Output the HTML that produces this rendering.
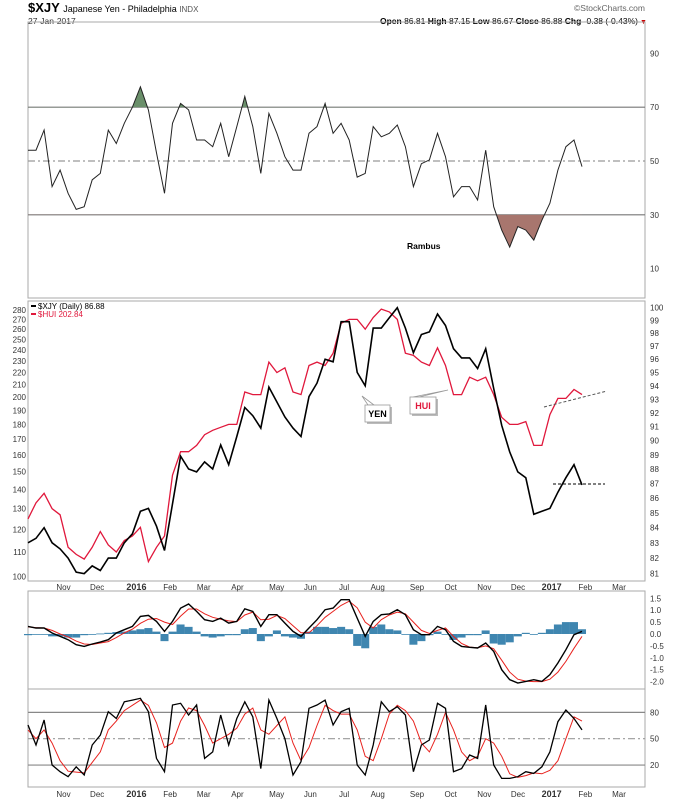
<!DOCTYPE html>
<html><head><meta charset="utf-8"><style>
body{margin:0;background:#fff;}
svg{display:block;font-family:"Liberation Sans",sans-serif;}
</style></head><body>
<svg id="chart" width="674" height="800" viewBox="0 0 674 800">
<g>
<text x="28" y="12" font-size="13" font-weight="bold">$XJY <tspan font-size="9" font-weight="normal">Japanese Yen - Philadelphia </tspan><tspan font-size="8" font-weight="normal" fill="#555">INDX</tspan></text>
<text x="28" y="24" font-size="8.5" fill="#333">27-Jan-2017</text>
<text x="645" y="11" font-size="8.5" fill="#666" text-anchor="end">©StockCharts.com</text>
<text x="638" y="24" font-size="8.5" text-anchor="end"><tspan font-weight="bold">Open</tspan> 86.81 <tspan font-weight="bold">High</tspan> 87.15 <tspan font-weight="bold">Low</tspan> 86.67 <tspan font-weight="bold">Close</tspan> 86.88 <tspan font-weight="bold">Chg</tspan> -0.38 (-0.43%)</text>
<text x="640" y="24" font-size="7" fill="#c00">▼</text>
</g>
<g id="panels"></g>
<text x="407" y="249" font-size="8.5" font-weight="bold">Rambus</text>
</svg>
<script>
const months = ["Nov","Dec","2016","Feb","Mar","Apr","May","Jun","Jul","Aug","Sep","Oct","Nov","Dec","2017","Feb","Mar"];
const monthPos = [0.16,0.22,0.29,0.35,0.41,0.47,0.54,0.6,0.66,0.72,0.79,0.85,0.91,0.97,1.03,1.09,1.15]; // fractional year offsets
const xjy = [83.0,83.3,84.0,83.0,82.6,82.0,81.1,81.0,81.5,81.2,82.0,82.0,83.0,83.6,85.1,85.3,84.1,82.5,85.6,88.9,88.0,87.8,88.5,88.0,89.7,88.3,90.3,92.4,91.8,90.9,93.9,92.8,91.7,90.9,90.3,93.2,94.2,96.0,95.8,98.9,98.9,95.0,94.0,98.4,98.4,99.2,100,98.4,96.5,97.9,98.1,99.5,98.6,96.8,96.1,96.1,95.3,96.8,93.8,91.1,89.2,87.8,87.4,84.9,85.1,85.3,86.4,87.4,88.3,86.9];
const hui = [125,133,138,130,127,112,109,107,112,119,113,110,115,117,121,106,112,117,148,162,162,166,173,176,178,180,180,204,202,202,229,220,224,204,202,226,229,226,237,266,270,270,260,272,281,278,270,237,235,229,226,242,226,202,202,216,213,216,202,185,180,180,182,166,166,187,199,199,206,202];
const rsi = [54,54,61.5,40.5,46.6,38,32,33,43,45.4,61.5,56.5,64,70,77.6,69,53,38,64,71.4,69,57.8,57.8,55.3,64,51.6,62.8,74,62.8,45.4,67.7,60.3,51.6,46.6,46.6,60.3,62.8,71.4,60.3,64,57.8,44,45.4,62.8,59,60.3,63.4,55.3,40.5,49,50.4,60.3,51.6,36.7,40.5,40.5,35.5,54,33,24.3,18,25.6,24.3,20.6,28,34.3,46.6,55.3,57.8,47.9];
const macd = [0.32,0.25,0.25,0.04,-0.1,-0.24,-0.45,-0.52,-0.42,-0.34,-0.24,0.04,0.18,0.32,0.74,0.78,0.53,0.11,0.53,1.09,1.26,0.95,0.6,0.53,0.67,0.46,0.53,1.06,0.95,0.32,0.81,0.81,0.46,0.11,-0.1,0.25,0.6,1.02,1.09,1.44,1.44,0.67,-0.1,0.53,0.81,0.84,1.02,0.81,0.18,-0.03,-0.03,0.32,0.18,-0.31,-0.52,-0.56,-0.59,-0.38,-0.73,-1.5,-1.92,-2.06,-1.99,-1.92,-1.99,-1.71,-1.22,-0.66,-0.03,0.11];
const signal = [0.30,0.27,0.25,0.15,0.0,-0.12,-0.3,-0.42,-0.44,-0.38,-0.32,-0.15,0.05,0.2,0.45,0.62,0.65,0.5,0.4,0.75,1.05,1.05,0.85,0.7,0.62,0.55,0.52,0.8,0.92,0.6,0.62,0.78,0.65,0.35,0.05,0.05,0.35,0.7,0.95,1.2,1.38,1.1,0.5,0.25,0.6,0.8,0.92,0.85,0.5,0.15,0.02,0.15,0.25,-0.1,-0.4,-0.55,-0.58,-0.5,-0.62,-1.1,-1.6,-1.9,-1.98,-2.0,-2.0,-1.9,-1.6,-1.15,-0.6,-0.1];
const hist = [-0.05,0,0,-0.1,-0.1,-0.15,-0.15,-0.05,0,0.02,0.05,0.08,0.1,0.15,0.2,0.25,0.1,-0.3,0.1,0.4,0.3,0.1,-0.1,-0.15,-0.1,-0.05,-0.05,0.2,0.25,-0.3,-0.1,0.15,-0.1,-0.15,-0.2,0.1,0.3,0.3,0.25,0.3,0.2,-0.5,-0.6,0.3,0.4,0.2,0.15,0.0,-0.45,-0.3,-0.05,0.1,0.0,-0.25,-0.15,-0.05,-0.05,0.15,-0.4,-0.45,-0.35,-0.1,0.05,0.0,0.05,0.2,0.4,0.5,0.5,0.2];
const stochK = [65.6,42.8,71.3,20,12.4,6.7,18,8.6,42.8,54,80.8,73,92,94,96,80.8,27.6,12.4,88.4,90.3,77,88.4,27.6,35,77,42.8,73,92,75,16,94,73,50,8.6,23.8,84.6,88.4,94,65.6,80.8,84.6,20,8.6,42.8,92,80.8,86.5,77,12.4,42.8,48.5,90.3,84.6,12.4,16,31.4,27.6,88.4,20,4.8,4.8,6.7,12.4,10.5,18,35,69.4,82.7,73,60];
const stochD = [60,50,60,45,25,13,12,11,23,35,60,70,82,88,94,88,68,40,45,70,85,82,65,45,50,55,62,78,85,60,55,65,75,45,25,40,65,88,82,78,78,60,30,25,50,78,88,82,70,45,35,55,80,60,35,25,30,50,45,30,10,6,8,11,10,14,25,50,75,70];
const rsiTicks = [90,70,50,30,10];
const leftTicks = [280,270,260,250,240,230,220,210,200,190,180,170,160,150,140,130,120,110,100];
const rightTicks = [100,99,98,97,96,95,94,93,92,91,90,89,88,87,86,85,84,83,82,81];
const macdTicks = [1.5,1.0,0.5,0.0,-0.5,-1.0,-1.5,-2.0];
const stochTicks = [80,50,20];

const NS="http://www.w3.org/2000/svg";
const root=document.getElementById('panels');
function mk(tag,attrs,parent){const e=document.createElementNS(NS,tag);for(const k in attrs)e.setAttribute(k,attrs[k]);(parent||root).appendChild(e);return e;}
const L=28,R=645,XEND=582;
const N=xjy.length;
function xi(i){return L+i*(XEND-L)/(N-1);}
function xMonth(f){return L+ (f-0.16)/(1.15-0.16)*(619-63.5)+35.5;}
const yRsi=v=>161-(v-50)*2.69;
const yRight=v=>307.7+Math.log(100/v)*1262;
const yLeft=v=>310+Math.log(280/v)*259;
const yMacd=v=>634-v*23.8;
const ySto=v=>738.7-(v-50)*0.878;
function path(arr,fy){return arr.map((v,i)=>(i?'L':'M')+xi(i).toFixed(1)+','+fy(v).toFixed(1)).join('');}

const panels=[[22,298,'rsi-panel'],[301,581,'price-panel'],[591,689,'macd-panel'],[689,787,'stochastic-panel']];
panels.forEach(p=>{const r=mk('rect',{x:L,y:p[0],width:R-L,height:p[1]-p[0],fill:'none',stroke:'#aaa','stroke-width':1});

});

function hline(y,dash,name,col){const l=mk('line',{x1:L,x2:R,y1:y,y2:y,stroke:col||'#777','stroke-width':1.2});if(dash)l.setAttribute('stroke-dasharray','7,3,2,3');

}
function rlabel(v,y,txt,name){const t=mk('text',{x:650,y:y+3,'font-size':8,fill:'#333'});t.textContent=txt;

}

// RSI panel
hline(yRsi(70),false,'rsi-overbought-line');hline(yRsi(30),false,'rsi-oversold-line');hline(yRsi(50),true,'rsi-midline','#999');
mk('clipPath',{id:'above70'}).appendChild(Object.assign(document.createElementNS(NS,'rect'),{}));
const cpA=document.getElementById('above70').firstChild;cpA.setAttribute('x',L);cpA.setAttribute('y',22);cpA.setAttribute('width',R-L);cpA.setAttribute('height',yRsi(70)-22);
mk('clipPath',{id:'below30'}).appendChild(document.createElementNS(NS,'rect'));
const cpB=document.getElementById('below30').firstChild;cpB.setAttribute('x',L);cpB.setAttribute('y',yRsi(30));cpB.setAttribute('width',R-L);cpB.setAttribute('height',298-yRsi(30));
const rp=path(rsi,yRsi);
const fa=mk('path',{d:rp+'L'+xi(N-1)+','+yRsi(70)+'L'+xi(0)+','+yRsi(70)+'Z',fill:'#6a8f6a','clip-path':'url(#above70)'});


const fb=mk('path',{d:rp+'L'+xi(N-1)+','+yRsi(30)+'L'+xi(0)+','+yRsi(30)+'Z',fill:'#a8766e','clip-path':'url(#below30)'});


const rl=mk('path',{d:rp,fill:'none',stroke:'#222','stroke-width':1});


rsiTicks.forEach(v=>rlabel(v,yRsi(v),String(v),'rsi-tick-label'));

// Price panel
const hl=mk('path',{d:path(hui,yLeft),fill:'none',stroke:'#e0183c','stroke-width':1.3});


const xl=mk('path',{d:path(xjy,yRight),fill:'none',stroke:'#000','stroke-width':1.6});


rightTicks.forEach(v=>rlabel(v,yRight(v),String(v),'right-axis-tick-label'));
leftTicks.forEach(v=>{const t=mk('text',{x:26,y:yLeft(v)+3,'font-size':8,fill:'#333','text-anchor':'end'});t.textContent=v;

});
// trendlines
const t1=mk('line',{x1:544,y1:407,x2:607,y2:391,stroke:'#555','stroke-width':1,'stroke-dasharray':'3,2'});


const t2=mk('line',{x1:553,y1:484,x2:605,y2:484,stroke:'#000','stroke-width':1,'stroke-dasharray':'3,2'});


// callouts
function callout(x,y,w,h,px,py,txt,col,name){const g=mk('g',{});
mk('rect',{x:x+2,y:y+2,width:w,height:h,fill:'#bbb'},g);
mk('polygon',{points:`${x+3},${y} ${px},${py} ${x+9},${y}`,fill:'#fff',stroke:'#999','stroke-width':0.8},g);
mk('rect',{x:x,y:y,width:w,height:h,fill:'#fff',stroke:'#999','stroke-width':0.8},g);
const t=mk('text',{x:x+w/2,y:y+h/2+3.5,'font-size':9,'font-weight':'bold',fill:col,'text-anchor':'middle'},g);t.textContent=txt;}
callout(365,405,25,17,362,396,'YEN','#000','yen-callout');
callout(410,397,26,17,448,390,'HUI','#e0183c','hui-callout');
// legend
const lg=mk('g',{});
mk('rect',{x:31,y:305,width:5,height:2,fill:'#000'},lg);
const lt1=mk('text',{x:38,y:309,'font-size':8,fill:'#000'},lg);lt1.textContent='$XJY (Daily) 86.88';
mk('rect',{x:31,y:313,width:5,height:2,fill:'#e0183c'},lg);
const lt2=mk('text',{x:38,y:317,'font-size':8,fill:'#e0183c'},lg);lt2.textContent='$HUI 202.84';

// MACD panel
const bw=(XEND-L)/(N-1);
hist.forEach((v,i)=>{const y0=yMacd(0),y1=yMacd(v);const b=mk('rect',{x:xi(i)-bw/2,y:Math.min(y0,y1),width:bw,height:Math.max(0.8,Math.abs(y1-y0)),fill:'#3f86b0'});

});
const sl=mk('path',{d:path(signal,yMacd),fill:'none',stroke:'#e8221e','stroke-width':1});


const ml=mk('path',{d:path(macd,yMacd),fill:'none',stroke:'#000','stroke-width':1.4});


macdTicks.forEach(v=>rlabel(v,yMacd(v),v.toFixed(1),'macd-tick-label'));

// Stochastic
hline(ySto(80),false,'stoch-overbought-line','#888');hline(ySto(20),false,'stoch-oversold-line','#888');hline(ySto(50),true,'stoch-midline','#999');
const dl=mk('path',{d:path(stochD,ySto),fill:'none',stroke:'#e8221e','stroke-width':1});


const kl=mk('path',{d:path(stochK,ySto),fill:'none',stroke:'#000','stroke-width':1.3});


stochTicks.forEach(v=>rlabel(v,ySto(v),String(v),'stoch-tick-label'));

// x-axis labels
[587,794].forEach(yy=>{months.forEach((m,i)=>{const bold=/^\d{4}$/.test(m);const t=mk('text',{x:xMonth(monthPos[i]),y:yy+3,'font-size':bold?9:8,'font-weight':bold?'bold':'normal',fill:'#333','text-anchor':'middle'});t.textContent=m;

});});
</script>
</body></html>
